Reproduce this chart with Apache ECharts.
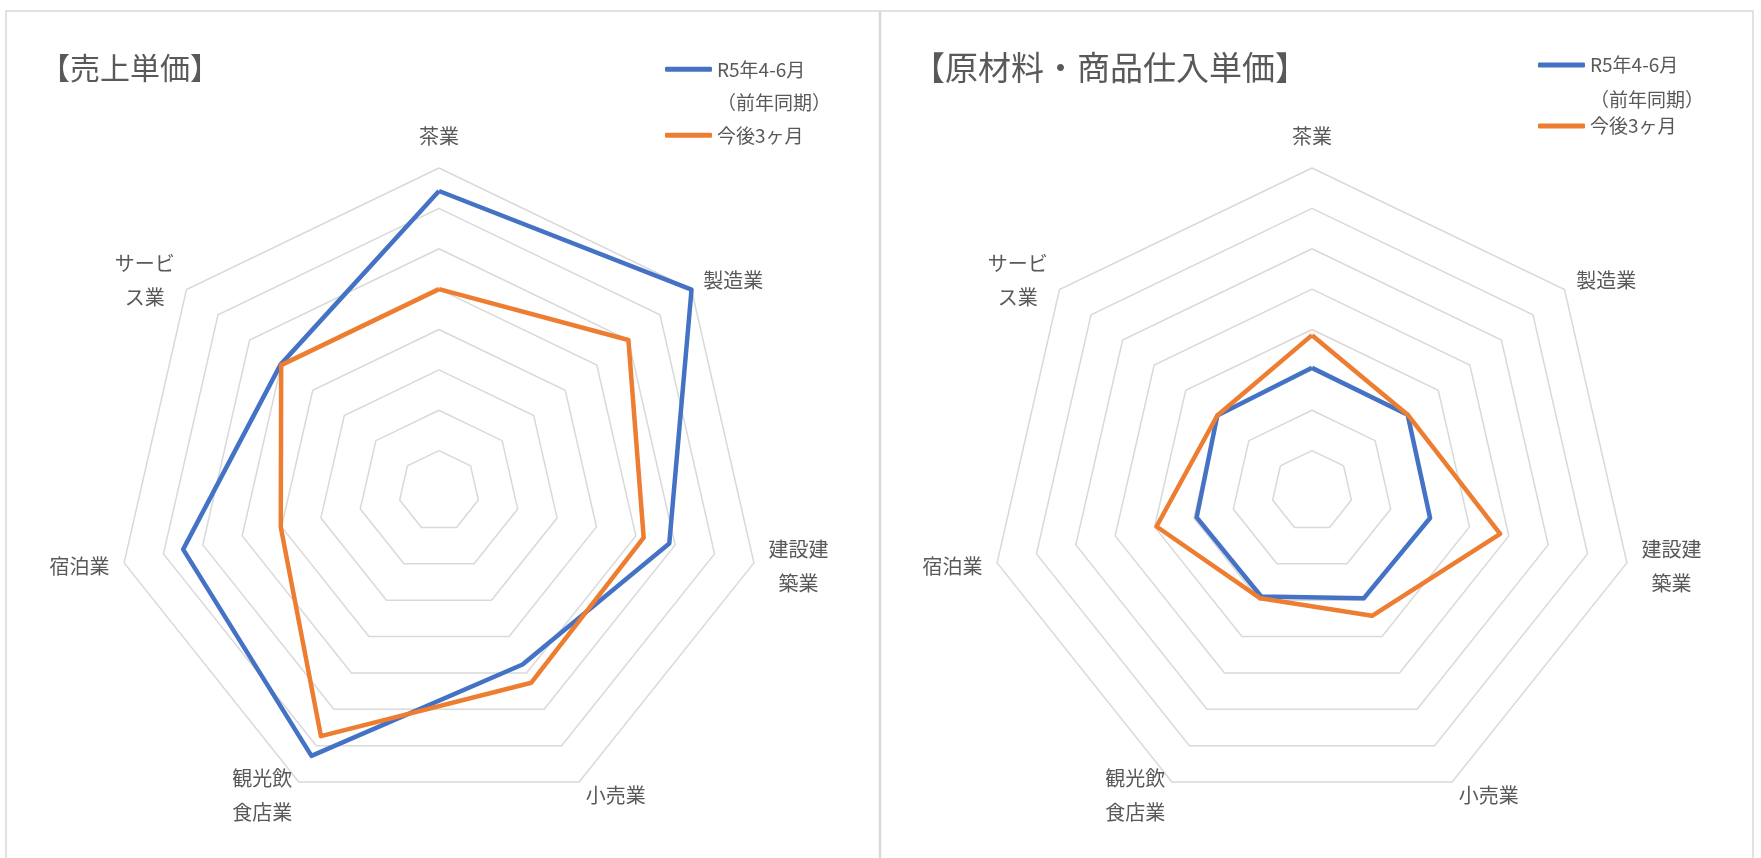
<!DOCTYPE html>
<html>
<head>
<meta charset="utf-8">
<script src="https://cdn.jsdelivr.net/npm/echarts@6/dist/echarts.min.js"></script>
<style>
  html, body { margin: 0; padding: 0; background: #ffffff; }
  #chart { width: 1761px; height: 858px; }
</style>
</head>
<body>
<div id="chart"></div>
<script>
// Industries, listed clockwise from the top of each radar
const categories = ['茶業', '製造業', '建設建築業', '小売業', '観光飲食店業', '宿泊業', 'サービス業'];
const categoryLabels = ['茶業', '製造業', '建設建\n築業', '小売業', '観光飲\n食店業', '宿泊業', 'サービ\nス業'];
const seriesNames = ['R5年4-6月\n（前年同期）', '今後3ヶ月'];
const panelTitles = ['【売上単価】', '【原材料・商品仕入単価】'];

// 売上単価 DI
const salesPrior   = [34.3, 40.0, 18.5, 7.7, 32.8, 25.0, 10.2];
const salesOutlook = [10.0, 20.0, 12.0, 12.7, 27.4, 0.2, 10.0];
// 原材料・商品仕入単価 DI
const costPrior    = [-9.5, -9.7, -10.0, -10.5, -11.0, -10.7, -10.0];
const costOutlook  = [-1.4, -9.7, 7.8, -5.7, -10.5, -0.5, -10.0];

const axisMin = -40;
const axisMax = 40;
const ringCount = 8;

const FONT = '"Noto Sans CJK JP", "Noto Sans", sans-serif';
const TEXT_COLOR = '#595959';
const BLUE = '#4472C4';
const ORANGE = '#ED7D31';

// ECharts lays radar indicators out counter-clockwise; keep the first one on top
// and reverse the rest so the industries run clockwise.
const clockwise = arr => [arr[0]].concat(arr.slice(1).reverse());

function radarOption(cx) {
  return {
    center: [cx, 491],
    radius: 323,
    startAngle: 90,
    shape: 'polygon',
    splitNumber: ringCount,
    nameGap: 15,
    indicator: clockwise(categoryLabels).map(n => ({ name: n, min: axisMin, max: axisMax })),
    axisName: {
      color: TEXT_COLOR,
      fontFamily: FONT,
      fontSize: 20,
      lineHeight: 34,
      formatter: name => name.split('\n').map(s => '{c|' + s + '}').join('\n'),
      rich: {
        c: { align: 'center', fontSize: 20, lineHeight: 34, color: TEXT_COLOR, fontFamily: FONT }
      }
    },
    axisLine: { show: false },
    axisTick: { show: false },
    axisLabel: { show: false },
    splitArea: { show: false },
    splitLine: { lineStyle: { color: '#d9d9d9', width: 1.5 } }
  };
}

function radarSeries(idx, prior, outlook) {
  const mk = (name, vals, color) => ({
    name: name,
    value: clockwise(vals),
    lineStyle: { color: color, width: 4.5 },
    itemStyle: { color: color }
  });
  return {
    type: 'radar',
    radarIndex: idx,
    symbol: 'none',
    silent: true,
    data: [mk(seriesNames[0], prior, BLUE), mk(seriesNames[1], outlook, ORANGE)]
  };
}

// Legend text is centred on its swatch; a leading blank line keeps the swatch
// level with the first line of a wrapped name.
function legendOption(left, top, lineH, gap) {
  return {
    orient: 'vertical',
    left: left,
    top: top,
    padding: 0,
    itemGap: gap,
    itemWidth: 47,
    itemHeight: 5,
    icon: 'roundRect',
    selectedMode: false,
    formatter: name => (name.indexOf('\n') >= 0 ? '\n' + name : name),
    textStyle: { color: TEXT_COLOR, fontFamily: FONT, fontSize: 19, lineHeight: lineH },
    data: seriesNames
  };
}

const chart = echarts.init(document.getElementById('chart'), null, { renderer: 'canvas' });
chart.setOption({
  animation: false,
  backgroundColor: '#ffffff',
  color: [BLUE, ORANGE],
  title: [
    { text: panelTitles[0], left: 40, top: 53, padding: 0,
      textStyle: { color: TEXT_COLOR, fontFamily: FONT, fontSize: 30, fontWeight: 'normal' } },
    { text: panelTitles[1], left: 912, top: 51, padding: 0,
      textStyle: { color: TEXT_COLOR, fontFamily: FONT, fontSize: 33, fontWeight: 'normal' } }
  ],
  legend: [
    legendOption(665, 19.8, 33, 0),
    legendOption(1538, 12.5, 35, -9)
  ],
  radar: [radarOption(439), radarOption(1312)],
  series: [
    radarSeries(0, salesPrior, salesOutlook),
    radarSeries(1, costPrior, costOutlook)
  ],
  graphic: [
    { type: 'rect', silent: true, z: -10,
      shape: { x: 6, y: 11, width: 873.5, height: 900 },
      style: { fill: 'none', stroke: '#d9d9d9', lineWidth: 1.5 } },
    { type: 'rect', silent: true, z: -10,
      shape: { x: 880.5, y: 11, width: 872.5, height: 900 },
      style: { fill: 'none', stroke: '#d9d9d9', lineWidth: 1.5 } }
  ]
});
</script>
</body>
</html>
